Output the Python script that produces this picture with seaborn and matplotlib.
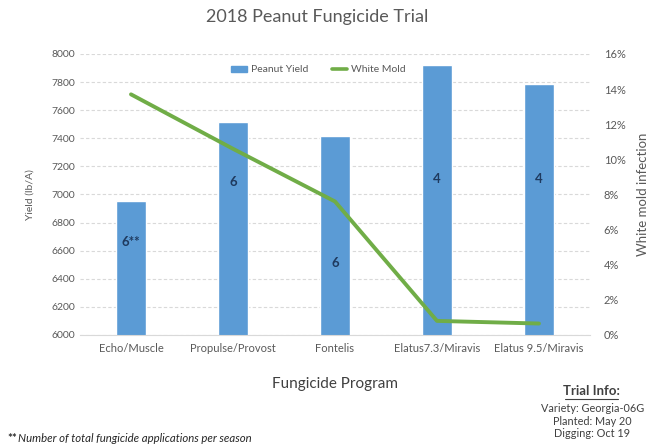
import pandas as pd
import numpy as np
import matplotlib.pyplot as plt
import seaborn as sns
from matplotlib.ticker import PercentFormatter
from matplotlib.lines import Line2D
from matplotlib.patches import Patch

# data
programs = ['Echo/Muscle', 'Propulse/Provost', 'Fontelis', 'Elatus7.3/Miravis', 'Elatus 9.5/Miravis']
yield_lb = [6950, 7515, 7415, 7925, 7785]
white_mold = [13.7, 10.6, 7.6, 0.8, 0.65]
applications = ['6**', '6', '6', '4', '4']

df = pd.DataFrame({'program': programs, 'yield': yield_lb, 'mold': white_mold})

sns.set_style('white')
plt.rcParams['font.family'] = ['Lato', 'DejaVu Sans']

BAR = '#5B9BD5'
LINE = '#70AD47'
GRAY = '#595959'

fig = plt.figure(figsize=(6.53, 4.46), dpi=100)
ax = fig.add_axes([0.1225, 0.249, 0.781, 0.630])

sns.barplot(data=df, x='program', y='yield', color=BAR, width=0.3,
            saturation=1, ax=ax, zorder=2)
ax.set_ylim(6000, 8000)
ax.set_yticks(np.arange(6000, 8001, 200))
ax.set_xlim(-0.5, 4.5)
ax.yaxis.grid(True, linestyle=(0, (3, 2)), color='#D9D9D9', lw=0.8, zorder=0)
ax.set_axisbelow(True)

# number of applications inside bars
label_y = [6660, 7090, 6510, 7110, 7110]
for i, (t, yy) in enumerate(zip(applications, label_y)):
    ax.text(i, yy, t, ha='center', va='center', fontsize=9.5,
            fontweight='bold', color='#1F3A5F')

ax2 = ax.twinx()
sns.lineplot(data=df, x='program', y='mold', color=LINE, lw=2.8,
             sort=False, ax=ax2, zorder=3)
ax2.set_ylim(0, 16)
ax2.set_yticks(np.arange(0, 17, 2))
ax2.yaxis.set_major_formatter(PercentFormatter(decimals=0))

for a in (ax, ax2):
    for s in a.spines.values():
        s.set_visible(False)
    a.tick_params(length=0, colors=GRAY, labelsize=7.5)
ax.spines['bottom'].set_visible(True)
ax.spines['bottom'].set_color('#D9D9D9')
ax.tick_params(axis='x', labelsize=8, pad=6)
ax2.tick_params(axis='y', labelsize=8, pad=10)

ax.set_xlabel('Fungicide Program', fontsize=11, color='#404040', labelpad=16)
ax.set_ylabel('Yield (lb/A)', fontsize=7.5, color=GRAY, labelpad=12)
ax2.set_ylabel('White mold infection', fontsize=9.5, color=GRAY, labelpad=8)

handles = [Patch(color=BAR, label='Peanut Yield'),
           Line2D([0], [0], color=LINE, lw=2.6, label='White Mold')]
ax.legend(handles=handles, loc='center', bbox_to_anchor=(0.468, 0.943),
          ncol=2, frameon=False, fontsize=7.5, handlelength=1.5,
          handleheight=0.6, handletextpad=0.4, columnspacing=2.2,
          labelcolor=GRAY)

fig.text(0.485, 0.962, '2018 Peanut Fungicide Trial', ha='center', va='center',
         fontsize=13, color='#595959')

fig.text(0.906, 0.123, 'Trial Info:', ha='center', va='center', fontsize=9.5,
         fontweight='bold', color='#404040')
fig.add_artist(Line2D([0.866, 0.946], [0.106, 0.106], color='#404040', lw=0.8))
info = ['Variety: Georgia-06G', 'Planted: May 20', 'Digging: Oct 19']
for k, t in enumerate(info):
    fig.text(0.907, 0.084 - k * 0.028, t, ha='center', va='center',
             fontsize=7.8, color='#404040')

fig.text(0.012, 0.017, '**', ha='left', va='center', fontsize=8.2,
         fontweight='bold', color='#262626')
fig.text(0.027, 0.017, 'Number of total fungicide applications per season',
         ha='left', va='center', fontsize=8.2, style='italic', color='#262626')

fig.savefig('out.png', dpi=100, facecolor='white')
